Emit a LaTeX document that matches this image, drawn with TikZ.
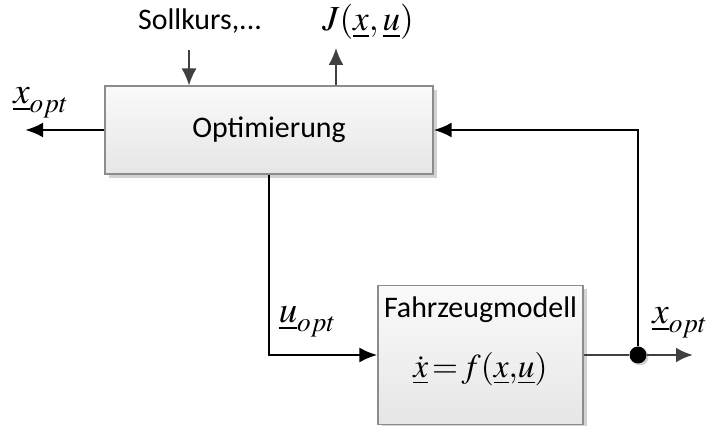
\documentclass[tikz,border=0pt]{standalone}
\usepackage{mathptmx}
\usepackage[no-math]{fontspec}
\setmainfont{Carlito}
\usepackage{xcolor}
\usetikzlibrary{arrows.meta,positioning,calc,shadows}
\definecolor{BlockBorder}{HTML}{8C8C8C}
\definecolor{BlockTop}{HTML}{FAFAFA}
\definecolor{BlockBottom}{HTML}{E6E6E6}
\definecolor{SignalGray}{HTML}{404040}
\tikzset{
    % Block style
    blocknode/.style={
        draw=BlockBorder,
        line width=0.6pt,
        top color=BlockTop,
        bottom color=BlockBottom,
        drop shadow={shadow xshift=0.08cm, shadow yshift=-0.08cm, fill=black!35},
        align=center,
        font=\fontsize{17}{20}\selectfont
    },
    % Signal arrow (main)
    sigarrow/.style={
        -{Latex[length=3.6mm, width=3mm]},
        line width=1.6pt,
        draw=black
    },
    % Thin input arrow
    inarrow/.style={
        -{Latex[length=3.4mm, width=3mm]},
        line width=1pt,
        draw=SignalGray
    },
    % Labels
    textlabel/.style={
        font=\fontsize{17}{20}\selectfont
    },
    mathlabel/.style={
        font=\fontsize{21}{24}\selectfont
    }
}

\begin{document}
\begin{tikzpicture}
        \useasboundingbox (0,0) rectangle (14.2,8.52);

        % Blocks
        \node[blocknode, minimum width=6.56cm, minimum height=1.76cm] (opt) at (5.38,5.92) {Optimierung};
        \node[blocknode, minimum width=4.1cm, minimum height=2.78cm] (fm) at (9.61,1.42) {};
        \node[textlabel] (fmtitle) at ($(fm.north)+(0,-0.49)$) {Fahrzeugmodell};
        \node[textlabel, font=\fontsize{19}{22}\selectfont] (fmeq) at ($(fm.center)+(0,-0.28)$) {$\dot{\underline{x}}\!=\!f(\underline{x}{,}\underline{u})$};

        % Inputs and outputs of the optimisation
        \node[textlabel] (soll) at (4.0,8.1) {Sollkurs,...};
        \coordinate (sollin) at (3.78,7.52);
        \draw[inarrow] (sollin) -- (sollin |- opt.north);
        \coordinate (jout) at (6.72,7.56);
        \node[textlabel, font=\fontsize{20}{24}\selectfont] (jlabel) at (7.36,8.08) {$J(\underline{x},\underline{u})$};
        \draw[inarrow] (jout |- opt.north) -- (jout);
        \coordinate (xleft) at (0.5,5.92);
        \draw[sigarrow] (opt.west) -- (xleft);
        \node[mathlabel] (xoptl) at (0.82,6.46) {$\underline{x}_{opt}$};

        % Control signal
        \draw[sigarrow] (opt.south) |- (fm.west);
        \node[mathlabel] (uopt) at (6.15,2.08) {$\underline{u}_{opt}$};

        % Output and feedback
        \node[circle, fill=black, inner sep=0pt, minimum size=0.34cm, drop shadow={shadow xshift=0.04cm, shadow yshift=-0.04cm, fill=black!35}] (dot) at (12.76,1.42) {};
        \coordinate (xout) at (13.86,1.42);
        \draw[line width=1.6pt, SignalGray] (fm.east) -- (dot);
        \draw[inarrow, line width=1.6pt] (dot) -- (xout);
        \draw[sigarrow] (dot) |- (opt.east);
        \node[mathlabel] (xoptr) at (13.6,2.06) {$\underline{x}_{opt}$};
\end{tikzpicture}
\end{document}
